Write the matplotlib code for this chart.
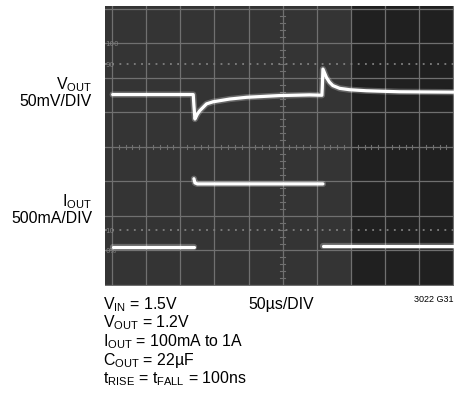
import numpy as np
import matplotlib
matplotlib.use("Agg")
from matplotlib import pyplot as plt

# scope traces, in graticule divisions (x: 0..10, y: 0..8)
vout_x = [0.02, 2.38, 2.40, 2.43, 2.50, 2.57, 2.77, 2.96, 3.45, 3.94, 4.91, 5.79, 6.15,
          6.16, 6.18, 6.28, 6.37, 6.47, 6.67, 6.96, 7.45, 8.42, 9.97, 10.0]
vout_y = [5.52, 5.52, 5.20, 4.81, 4.95, 5.05, 5.25, 5.31, 5.39, 5.44, 5.49, 5.51, 5.50,
          5.70, 6.26, 6.02, 5.88, 5.78, 5.70, 5.66, 5.63, 5.60, 5.59, 5.59]

iout_low1_x = [0.02, 2.40]
iout_low1_y = [1.09, 1.09]
iout_high_x = [2.40, 2.43, 2.50, 6.18]
iout_high_y = [3.08, 2.96, 2.93, 2.93]
iout_low2_x = [6.17, 10.0]
iout_low2_y = [1.12, 1.12]

left_labels = [("V$_{\\mathrm{OUT}}$", 85), ("50mV/DIV", 101), ("I$_{\\mathrm{OUT}}$", 202), ("500mA/DIV", 219)]
cond_lines = ["V$_{\\mathrm{IN}}$ = 1.5V",
              "V$_{\\mathrm{OUT}}$ = 1.2V",
              "I$_{\\mathrm{OUT}}$ = 100mA to 1A",
              "C$_{\\mathrm{OUT}}$ = 22µF",
              "t$_{\\mathrm{RISE}}$ = t$_{\\mathrm{FALL}}$ = 100ns"]
pct_labels = [("100", 7.0), ("90", 6.4), ("10", 1.6), ("0%", 1.0)]

plt.rcParams["font.family"] = ["Liberation Sans", "DejaVu Sans"]
plt.rcParams["mathtext.fontset"] = "custom"
plt.rcParams["mathtext.rm"] = "Liberation Sans"
plt.rcParams["mathtext.it"] = "Liberation Sans"

W, H = 454, 402
fig = plt.figure(figsize=(W / 100, H / 100), dpi=100)
fig.patch.set_facecolor("white")

# screen area in pixels: x 105..454, y 7..287
ax = fig.add_axes([105 / W, (H - 287) / H, (W - 105) / W, 280 / H])
ax.set_xlim(-0.205, 10.02)
ax.set_ylim(-0.03, 8.087)
ax.set_facecolor("#343434")
ax.axvspan(7.02, 10.1, color="#202020", zorder=0)
for s in ax.spines.values():
  s.set_visible(False)
ax.set_xticks([])
ax.set_yticks([])

grid_c = "#707070"
for gx in range(11):
  ax.axvline(gx, color=grid_c, lw=0.9, zorder=1)
for gy in range(9):
  ax.axhline(gy, color=grid_c, lw=0.9, zorder=1)
# minor ticks on the centre lines
for t in np.arange(0, 10.01, 0.2):
  ax.plot([t, t], [3.93, 4.07], color=grid_c, lw=0.8, zorder=1)
for t in np.arange(0, 8.01, 0.2):
  ax.plot([4.93, 5.07], [t, t], color=grid_c, lw=0.8, zorder=1)
# 10% / 90% dotted lines
for gy in (1.6, 6.4):
  ax.axhline(gy, color="#808080", lw=1.3, ls=(0, (1, 3)), zorder=1)
for txt, gy in pct_labels:
  ax.text(-0.19, gy, txt, color="#808080", fontsize=5, va="center", ha="left",
          family="DejaVu Sans", zorder=2)

# traces with a soft glow
def trace(x, y):
  ax.plot(x, y, color="white", lw=4.5, alpha=0.25, solid_capstyle="round", zorder=3)
  ax.plot(x, y, color="white", lw=2.3, solid_capstyle="round", zorder=4)

trace(vout_x, vout_y)
trace(iout_low1_x, iout_low1_y)
trace(iout_high_x, iout_high_y)
trace(iout_low2_x, iout_low2_y)

fs = 11.4
for txt, py in left_labels:
  fig.text(92 / W, 1 - py / H, txt, ha="right", va="center", fontsize=fs)

for i, txt in enumerate(cond_lines):
  fig.text(103 / W, 1 - (309 + i * 18.6) / H, txt, ha="left", va="baseline", fontsize=fs)
fig.text(248 / W, 1 - 309 / H, "50µs/DIV", ha="left", va="baseline", fontsize=fs)
fig.text(453 / W, 1 - 302 / H, "3022 G31", ha="right", va="baseline", fontsize=6.5)

fig.savefig("out.png", dpi=100)
